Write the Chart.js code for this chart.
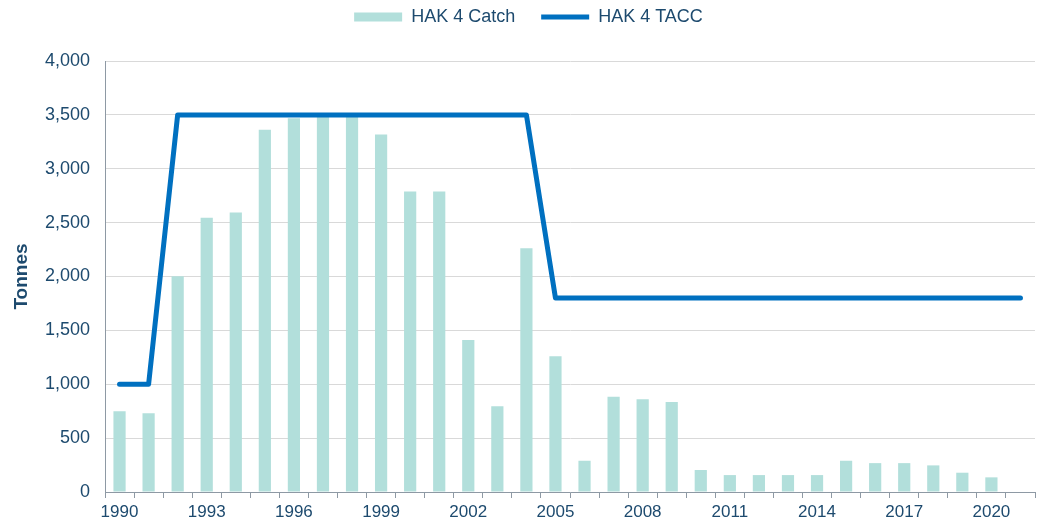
<!DOCTYPE html>
<html>
<head>
<meta charset="utf-8">
<script src="https://cdn.jsdelivr.net/npm/chart.js@4.4.1/dist/chart.umd.min.js"></script>
<style>
  html, body { margin: 0; padding: 0; background: #ffffff; }
  #wrap { width: 1044px; height: 528px; position: relative; }
</style>
</head>
<body>
<div id="wrap"><canvas id="c"></canvas></div>
<script>
const years = ['1990','1991','1992','1993','1994','1995','1996','1997','1998','1999','2000','2001','2002','2003','2004','2005','2006','2007','2008','2009','2010','2011','2012','2013','2014','2015','2016','2017','2018','2019','2020','2021'];
const catchTonnes = [750, 730, 2003, 2546, 2593, 3361, 3468, 3482, 3482, 3318, 2790, 2790, 1410, 796, 2262, 1259, 290, 883, 861, 836, 204, 157, 157, 157, 157, 290, 268, 268, 247, 179, 136, null];
const taccTonnes = [1000, 1000, 3500, 3500, 3500, 3500, 3500, 3500, 3500, 3500, 3500, 3500, 3500, 3500, 3500, 1800, 1800, 1800, 1800, 1800, 1800, 1800, 1800, 1800, 1800, 1800, 1800, 1800, 1800, 1800, 1800, 1800];
const yTicks = [0, 500, 1000, 1500, 2000, 2500, 3000, 3500, 4000];

const textColor = '#1D4A6E';
const fontFamily = "'Liberation Sans', Arial, sans-serif";

const legendPlacement = {
  id: 'legendPlacement',
  beforeInit(chart) {
    const origFit = chart.legend.fit;
    chart.legend.fit = function () {
      origFit.call(this);
      this.height = 61;
    };
  },
  afterLayout(chart) {
    chart.legend.top -= 18;
    chart.legend.left += 6;
    chart.legend.right += 6;
  }
};

new Chart(document.getElementById('c'), {
  data: {
    labels: years,
    datasets: [
      {
        type: 'line',
        label: 'HAK 4 TACC',
        data: taccTonnes,
        borderColor: '#0070C0',
        backgroundColor: '#0070C0',
        borderWidth: 5,
        pointRadius: 0,
        pointHoverRadius: 0,
        tension: 0,
        borderCapStyle: 'round',
        borderJoinStyle: 'round',
        order: 0,
        pointStyle: 'line'
      },
      {
        type: 'bar',
        label: 'HAK 4 Catch',
        data: catchTonnes,
        backgroundColor: '#B2DFDB',
        borderWidth: 0,
        barPercentage: 0.42,
        categoryPercentage: 1.0,
        order: 1,
        pointStyle: 'rect'
      }
    ]
  },
  options: {
    responsive: true,
    maintainAspectRatio: false,
    animation: false,
    layout: { padding: { left: 10, right: 9, top: 0, bottom: 0 } },
    plugins: {
      tooltip: { enabled: false },
      legend: {
        position: 'top',
        reverse: true,
        labels: {
          usePointStyle: true,
          pointStyleWidth: 48,
          boxHeight: 9,
          padding: 26,
          color: textColor,
          font: { family: fontFamily, size: 18 }
        }
      }
    },
    scales: {
      x: {
        type: 'category',
        offset: true,
        grid: {
          offset: true,
          drawOnChartArea: false,
          drawTicks: true,
          tickLength: 6,
          color: '#8E99A4'
        },
        border: { display: true, color: '#8E99A4', width: 1 },
        ticks: {
          autoSkip: false,
          maxRotation: 0,
          padding: 4,
          color: textColor,
          font: { family: fontFamily, size: 17 },
          callback: function (v, i) { return i % 3 === 0 ? years[i] : ''; }
        },
        afterFit(s) { s.height = 36; }
      },
      y: {
        min: 0,
        max: 4000,
        afterBuildTicks(s) { s.ticks = yTicks.map(v => ({ value: v })); },
        grid: { color: '#D9D9D9', drawTicks: false, lineWidth: 1 },
        border: { display: true, color: '#8E99A4', width: 1 },
        ticks: {
          padding: 15,
          color: textColor,
          font: { family: fontFamily, size: 18 },
          callback: v => v.toLocaleString('en-US')
        },
        title: {
          display: true,
          text: 'Tonnes',
          color: textColor,
          font: { family: fontFamily, size: 19, weight: 'bold' },
          padding: { top: 0, bottom: 4 }
        },
        afterFit(s) { s.width = 95; }
      }
    }
  },
  plugins: [legendPlacement]
});
</script>
</body>
</html>
